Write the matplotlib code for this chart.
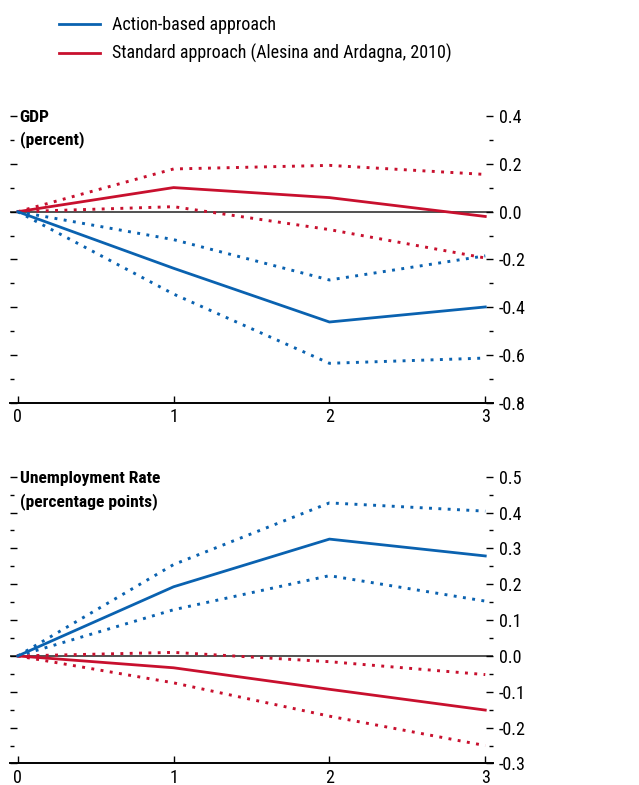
import matplotlib
matplotlib.use('Agg')
import matplotlib.pyplot as plt
from matplotlib.ticker import MultipleLocator, FormatStrFormatter

plt.rcParams['font.family'] = ['Roboto Condensed', 'DejaVu Sans']
plt.rcParams['axes.unicode_minus'] = False

years = [0, 1, 2, 3]

# GDP (percent)
gdp_action = [0, -0.237, -0.462, -0.399]
gdp_action_hi = [0, -0.117, -0.286, -0.185]
gdp_action_lo = [0, -0.345, -0.635, -0.613]
gdp_std = [0, 0.101, 0.059, -0.020]
gdp_std_hi = [0, 0.179, 0.194, 0.156]
gdp_std_lo = [0, 0.021, -0.075, -0.194]

# Unemployment rate (percentage points)
ur_action = [0, 0.193, 0.326, 0.279]
ur_action_hi = [0, 0.255, 0.427, 0.404]
ur_action_lo = [0, 0.129, 0.224, 0.153]
ur_std = [0, -0.033, -0.093, -0.151]
ur_std_hi = [0, 0.010, -0.016, -0.052]
ur_std_lo = [0, -0.075, -0.168, -0.250]

BLUE = '#0a62b0'
RED = '#c8102e'
FS = 13

fig = plt.figure(figsize=(6.39, 7.85), dpi=100)
ax1 = fig.add_axes([0.0156, 0.487, 0.756, 0.365])
ax2 = fig.add_axes([0.0156, 0.0274, 0.756, 0.3653])


def draw_panel(ax, act, act_hi, act_lo, std, std_hi, std_lo, ylim, major, minor, title, title_y):
    ax.axhline(0, color='#333333', lw=1.2, zorder=1)
    dot = dict(lw=2.1, linestyle=(0, (1, 2.2)), dash_capstyle='butt')
    ax.plot(years, std_hi, color=RED, **dot)
    ax.plot(years, std_lo, color=RED, **dot)
    ax.plot(years, act_hi, color=BLUE, **dot)
    ax.plot(years, act_lo, color=BLUE, **dot)
    ax.plot(years, std, color=RED, lw=2.0, label='Standard approach (Alesina and Ardagna, 2010)')
    ax.plot(years, act, color=BLUE, lw=2.0, label='Action-based approach')

    ax.set_xlim(-0.05, 3.05)
    ax.set_ylim(*ylim)
    for s in ['left', 'right', 'top']:
        ax.spines[s].set_visible(False)
    ax.spines['bottom'].set_linewidth(1.4)

    ax.set_xticks(years)
    ax.tick_params(axis='x', direction='in', length=5, width=1, labelsize=FS, pad=4)
    ax.yaxis.set_major_locator(MultipleLocator(major))
    ax.yaxis.set_minor_locator(MultipleLocator(minor))
    ax.yaxis.set_major_formatter(FormatStrFormatter('%.1f'))
    ax.tick_params(axis='y', which='both', direction='in', left=True, right=True,
                   labelleft=False, labelright=True, labelsize=FS, pad=4, width=1)
    ax.tick_params(axis='y', which='major', length=5)
    ax.tick_params(axis='y', which='minor', length=3)

    ax.text(0.02, title_y, title, transform=ax.transAxes, ha='left', va='top',
            fontsize=12.6, fontweight='bold', linespacing=1.5)


draw_panel(ax1, gdp_action, gdp_action_hi, gdp_action_lo, gdp_std, gdp_std_hi, gdp_std_lo,
           (-0.8, 0.4), 0.2, 0.1, 'GDP\n(percent)', 1.022)
draw_panel(ax2, ur_action, ur_action_hi, ur_action_lo, ur_std, ur_std_hi, ur_std_lo,
           (-0.3, 0.5), 0.1, 0.05, 'Unemployment Rate\n(percentage points)', 1.02)

handles, labels = ax1.get_legend_handles_labels()
fig.legend(handles[::-1], labels[::-1], loc='upper left', bbox_to_anchor=(0.067, 1.0),
           frameon=False, fontsize=FS, handlelength=2.25, handletextpad=0.7,
           labelspacing=0.55)

fig.savefig('out.png', dpi=100)
